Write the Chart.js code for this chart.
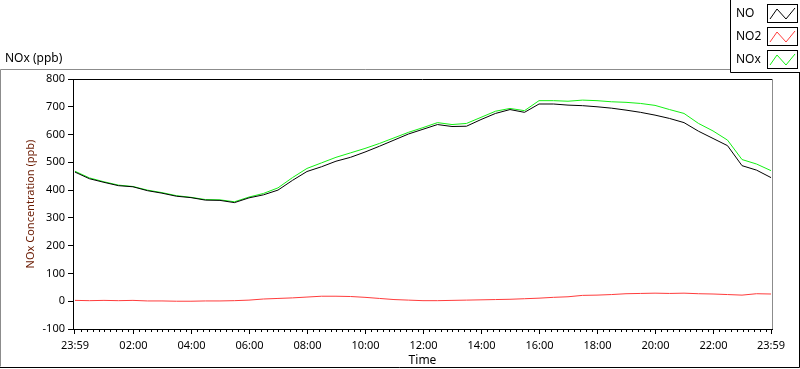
<!DOCTYPE html>
<html>
<head>
<meta charset="utf-8">
<script src="https://cdn.jsdelivr.net/npm/chart.js@4.4.0/dist/chart.umd.min.js"></script>
<style>
  html, body { margin: 0; padding: 0; background: #fff; }
  #wrap { width: 800px; height: 369px; position: relative; }
</style>
</head>
<body>
<div id="wrap"><canvas id="noxChart" width="800" height="369"></canvas></div>
<script>
// minutes after the 23:59 start, one reading every 30 min
var minutes = [0, 30, 60, 90, 120, 150, 180, 210, 240, 270, 300, 330, 360, 390, 420, 450,
  480, 510, 540, 570, 600, 630, 660, 690, 720, 750, 780, 810, 840, 870, 900, 930, 960,
  990, 1020, 1050, 1080, 1110, 1140, 1170, 1200, 1230, 1260, 1290, 1320, 1350, 1380, 1410, 1440];

var noValues = [465, 441, 428, 416, 412, 398, 389, 378, 373, 364, 363, 355, 372, 383, 400, 435,
  467, 484, 504, 518, 537, 558, 580, 602, 619, 636, 629, 630, 654, 676, 690, 680, 710,
  710, 706, 704, 700, 695, 688, 680, 670, 658, 643, 612, 586, 560, 488, 472, 445];

var no2Values = [3, 2, 3, 2, 3, 1, 1, 0, 0, 1, 1, 2, 4, 8, 10, 12,
  15, 18, 18, 17, 14, 10, 6, 4, 2, 2, 3, 4, 5, 6, 7, 9, 11,
  14, 16, 21, 22, 24, 27, 28, 29, 28, 29, 27, 26, 24, 22, 27, 26];

var noxValues = [468, 444, 430, 418, 413, 400, 391, 380, 374, 366, 365, 358, 375, 388, 408, 445,
  478, 498, 518, 534, 550, 568, 588, 608, 625, 643, 636, 640, 662, 684, 694, 686, 722,
  722, 720, 724, 722, 718, 716, 712, 705, 690, 676, 640, 613, 580, 510, 494, 470];

var tickMinutes = [0, 121, 241, 361, 481, 601, 721, 841, 961, 1081, 1201, 1321, 1440];
var tickLabels = ["23:59", "02:00", "04:00", "06:00", "08:00", "10:00", "12:00",
  "14:00", "16:00", "18:00", "20:00", "22:00", "23:59"];

var seriesNames = ["NO", "NO2", "NOx"];
var seriesColors = ["#000000", "#ff3c3c", "#14f014"];

function points(vals) {
  return minutes.map(function (m, i) { return { x: m, y: vals[i] }; });
}

var fontFamily = "'Noto Sans', 'DejaVu Sans', sans-serif";

// panel frame, plot frame, minor ticks, title and legend
var framePlugin = {
  id: "frame",
  beforeDraw: function (chart) {
    var c = chart.ctx;
    c.save();
    c.fillStyle = "#fff";
    c.fillRect(0, 0, chart.width, chart.height);
    c.restore();
  },
  afterDraw: function (chart) {
    var c = chart.ctx;
    var a = chart.chartArea;
    var xs = chart.scales.x;
    c.save();
    c.lineWidth = 1;

    // outer panel
    c.strokeStyle = "#8c8c8c";
    c.beginPath();
    c.moveTo(0.5, 366.5); c.lineTo(0.5, 69.5); c.lineTo(730, 69.5);
    c.stroke();
    c.strokeStyle = "#000";
    c.beginPath();
    c.moveTo(0, 367.5); c.lineTo(799.5, 367.5); c.lineTo(799.5, 72);
    c.stroke();

    // plot frame
    c.beginPath();
    c.moveTo(a.left, a.top + 0.5); c.lineTo(a.right, a.top + 0.5);
    c.stroke();
    c.strokeStyle = "#8c8c8c";
    c.beginPath();
    c.moveTo(a.right + 0.5, a.top); c.lineTo(a.right + 0.5, a.bottom);
    c.stroke();

    // minor ticks every 12 minutes
    c.strokeStyle = "#000";
    c.beginPath();
    for (var m = 13; m < 1440; m += 12) {
      if ((m - 1) % 120 === 0) continue;
      var px = Math.round(xs.getPixelForValue(m)) + 0.5;
      c.moveTo(px, a.bottom); c.lineTo(px, a.bottom + 3);
    }
    c.stroke();

    // chart caption
    c.fillStyle = "#000";
    c.font = "12px " + fontFamily;
    c.textBaseline = "middle";
    c.textAlign = "left";
    c.fillText("NOx (ppb)", 5, 59);

    // legend box
    c.strokeStyle = "#000";
    c.beginPath();
    c.moveTo(730.5, 0); c.lineTo(730.5, 72.5); c.lineTo(800, 72.5);
    c.stroke();
    var rowY = [4, 27, 50];
    chart.data.datasets.forEach(function (ds, i) {
      var y = rowY[i];
      c.fillStyle = "#000";
      c.fillText(ds.label, 736, y + 10);
      c.strokeStyle = "#000";
      c.strokeRect(767.5, y + 0.5, 30, 18);
      c.strokeStyle = ds.borderColor;
      c.beginPath();
      c.moveTo(770, y + 15); c.lineTo(777, y + 5); c.lineTo(786, y + 15); c.lineTo(795, y + 4);
      c.stroke();
    });
    c.restore();
  }
};

var ctx = document.getElementById("noxChart").getContext("2d");
var noxChart = new Chart(ctx, {
  type: "line",
  data: {
    datasets: [
      { label: seriesNames[0], data: points(noValues), borderColor: seriesColors[0] },
      { label: seriesNames[1], data: points(no2Values), borderColor: seriesColors[1] },
      { label: seriesNames[2], data: points(noxValues), borderColor: seriesColors[2] }
    ]
  },
  options: {
    responsive: false,
    animation: false,
    layout: { padding: { left: 0, top: 79, right: 28, bottom: 0 } },
    elements: {
      line: { borderWidth: 1, tension: 0, fill: false },
      point: { radius: 0, hoverRadius: 0 }
    },
    plugins: {
      legend: { display: false },
      tooltip: { enabled: false },
      title: { display: false }
    },
    scales: {
      x: {
        type: "linear",
        min: -4,
        max: 1442,
        afterBuildTicks: function (scale) {
          scale.ticks = tickMinutes.map(function (v) { return { value: v }; });
        },
        afterFit: function (scale) { scale.height = 40; },
        ticks: {
          autoSkip: false,
          maxRotation: 0,
          padding: 5,
          color: "#000",
          font: { family: fontFamily, size: 11 },
          callback: function (value) {
            var i = tickMinutes.indexOf(value);
            return i >= 0 ? tickLabels[i] : "";
          }
        },
        grid: { drawOnChartArea: false, drawTicks: true, tickLength: 5, tickColor: "#000" },
        border: { display: true, color: "#000", width: 1 },
        title: {
          display: true,
          text: "Time",
          color: "#000",
          font: { family: fontFamily, size: 12 },
          padding: { top: 0, bottom: 1 }
        }
      },
      y: {
        min: -100,
        max: 800,
        afterFit: function (scale) { scale.width = 73; },
        ticks: {
          stepSize: 100,
          padding: 3,
          color: "#000",
          font: { family: fontFamily, size: 11 }
        },
        grid: { drawOnChartArea: false, drawTicks: true, tickLength: 5, tickColor: "#000" },
        border: { display: true, color: "#000", width: 1 },
        title: {
          display: true,
          text: "NOx Concentration (ppb)",
          color: "#6a1a00",
          font: { family: fontFamily, size: 11 },
          padding: { top: 24, bottom: 0 }
        }
      }
    }
  },
  plugins: [framePlugin]
});
</script>
</body>
</html>
